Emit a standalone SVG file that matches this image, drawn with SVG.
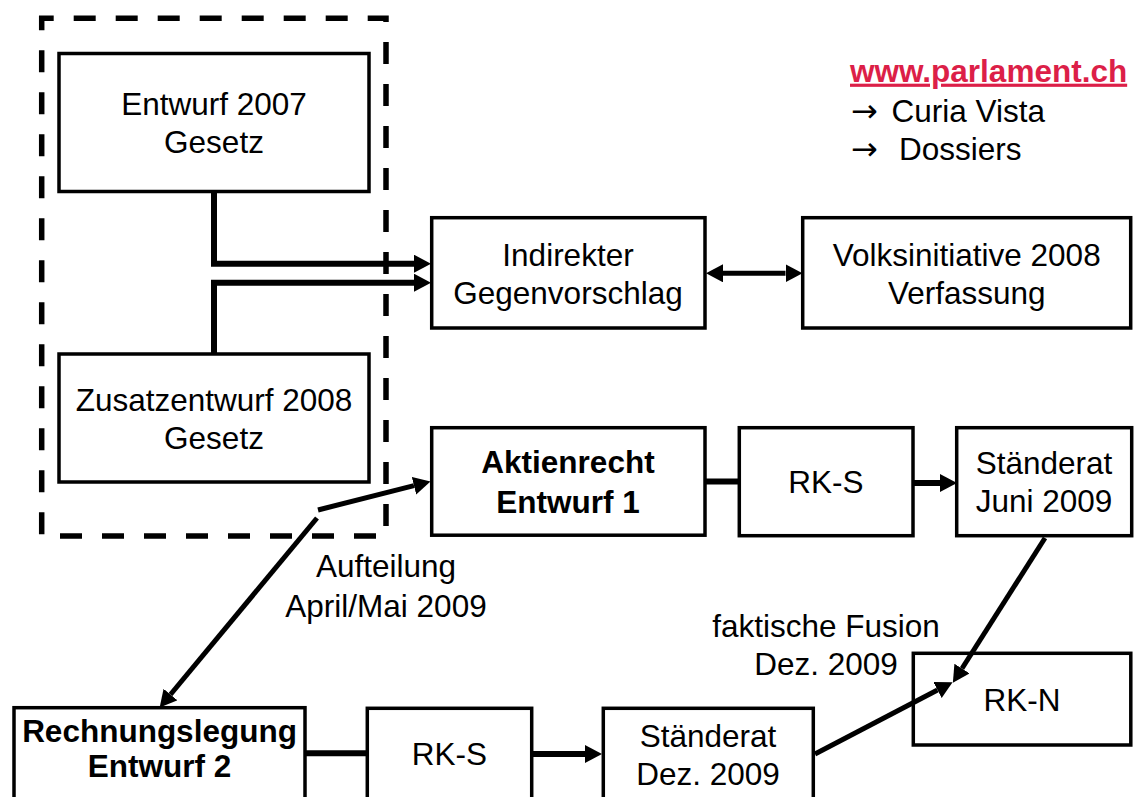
<svg xmlns="http://www.w3.org/2000/svg" width="1135" height="797" viewBox="0 0 1135 797">
<defs>
<style>
.box{fill:#fff;stroke:#000;stroke-width:3.5}
.t{font-family:"Liberation Sans",Arial,sans-serif;font-size:31.5px;fill:#000;text-anchor:middle}
.b{font-weight:bold}
.c{fill:none;stroke:#000;stroke-width:6;stroke-linejoin:miter}
.c5{fill:none;stroke:#000;stroke-width:5}
.arr{font-family:"DejaVu Sans",sans-serif;font-size:32px}
</style>
<marker id="ah" markerUnits="userSpaceOnUse" markerWidth="17" markerHeight="19" refX="0" refY="9" orient="auto-start-reverse" viewBox="0 0 17 19">
<path d="M0,0 L17,9 L0,18 z" fill="#000"/>
</marker>
</defs>
<rect width="1135" height="797" fill="#fff"/>
<g id="group-dashed">
<rect x="41.7" y="18.3" width="344.3" height="517.7" fill="none" stroke="#000" stroke-width="5.5" stroke-dasharray="22 20" stroke-dashoffset="10"/>
</g>
<g id="entwurf2007">
<rect class="box" x="59" y="53.5" width="310" height="138"/>
<text class="t" x="214" y="115">Entwurf 2007</text>
<text class="t" x="214" y="153">Gesetz</text>
</g>
<g id="zusatzentwurf2008">
<rect class="box" x="59" y="354" width="310" height="128"/>
<text class="t" x="214" y="410.5">Zusatzentwurf 2008</text>
<text class="t" x="214" y="448.5">Gesetz</text>
</g>
<g id="indirekter">
<rect class="box" x="431.7" y="217.7" width="273.3" height="110.3"/>
<text class="t" x="568" y="266">Indirekter</text>
<text class="t" x="568" y="304">Gegenvorschlag</text>
</g>
<g id="volksinitiative">
<rect class="box" x="802.7" y="217.7" width="328" height="110.3"/>
<text class="t" x="966.7" y="266">Volksinitiative 2008</text>
<text class="t" x="966.7" y="304">Verfassung</text>
</g>
<g id="aktienrecht">
<rect class="box" x="431.7" y="427.7" width="273.3" height="107.5"/>
<text class="t b" x="568" y="473.3">Aktienrecht</text>
<text class="t b" x="568" y="512.7">Entwurf 1</text>
</g>
<g id="rks1">
<rect class="box" x="739.3" y="427.7" width="173.7" height="108"/>
<text class="t" x="826" y="493">RK-S</text>
</g>
<g id="staenderat-juni">
<rect class="box" x="956.7" y="427.7" width="175" height="108"/>
<text class="t" x="1044" y="474.3">Ständerat</text>
<text class="t" x="1044" y="511.7">Juni 2009</text>
</g>
<g id="rkn">
<rect class="box" x="913.3" y="653.3" width="217.5" height="91.7"/>
<text class="t" x="1022" y="711">RK-N</text>
</g>
<g id="rechnungslegung">
<rect class="box" x="14" y="707.7" width="291" height="130"/>
<text class="t b" x="159.5" y="741.5">Rechnungslegung</text>
<text class="t b" x="159.5" y="777">Entwurf 2</text>
</g>
<g id="rks2">
<rect class="box" x="367.3" y="708.3" width="164.4" height="130"/>
<text class="t" x="449.5" y="765">RK-S</text>
</g>
<g id="staenderat-dez">
<rect class="box" x="603.3" y="708.3" width="210" height="130"/>
<text class="t" x="708" y="746.7">Ständerat</text>
<text class="t" x="708" y="785">Dez. 2009</text>
</g>
<g id="labels">
<text class="t" x="386" y="576.7">Aufteilung</text>
<text class="t" x="386" y="616.7">April/Mai 2009</text>
<text class="t" x="826" y="636.7">faktische Fusion</text>
<text class="t" x="826" y="675">Dez. 2009</text>
</g>
<g id="link">
<text x="850" y="81.7" font-family="'Liberation Sans',Arial,sans-serif" font-size="31.5" font-weight="bold" fill="#dc1f48" text-decoration="underline">www.parlament.ch</text>
<text font-family="'Liberation Sans',Arial,sans-serif" font-size="31.5" fill="#000" y="121.7"><tspan class="arr" x="851">→</tspan><tspan x="891.5">Curia Vista</tspan></text>
<text font-family="'Liberation Sans',Arial,sans-serif" font-size="31.5" fill="#000" y="160"><tspan class="arr" x="851">→</tspan><tspan x="899">Dossiers</tspan></text>
</g>
<g id="connectors">
<path class="c" d="M214,191.7 V263.7 H414" marker-end="url(#ah)"/>
<path class="c" d="M214,354 V282.7 H414" marker-end="url(#ah)"/>
<path class="c5" d="M723,273.3 H785.5" marker-start="url(#ah)" marker-end="url(#ah)"/>
<path class="c" d="M705,481.5 H739.3"/>
<path class="c" d="M913,483 H940" marker-end="url(#ah)"/>
<path class="c5" d="M1045,538 L962,668.5" marker-end="url(#ah)"/>
<path class="c5" d="M815,754 L937.5,690" marker-end="url(#ah)"/>
<path class="c5" d="M318,510 L414,485.7" marker-end="url(#ah)"/>
<path class="c5" d="M317,518 L170.5,694.5" marker-end="url(#ah)"/>
<path class="c" d="M305,753.3 H367.3"/>
<path class="c" d="M531.7,754 H585" marker-end="url(#ah)"/>
</g>
</svg>
